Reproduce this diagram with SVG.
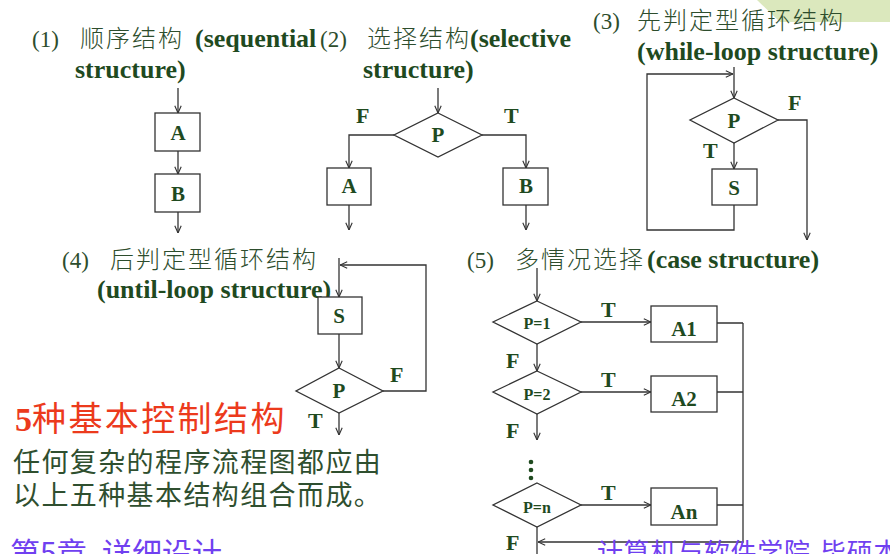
<svg xmlns="http://www.w3.org/2000/svg" width="890" height="554" viewBox="0 0 890 554">
<style>
.en{font-family:"Liberation Serif","Times New Roman",serif;font-weight:bold;fill:#1f4a1f}
.num{font-family:"Liberation Serif","Times New Roman",serif;fill:#2d4d2d;font-size:23px}
.cn{font-family:"Noto Sans CJK SC","Noto Sans CJK JP",sans-serif;font-weight:300;fill:#2d4d2d;font-size:24px;letter-spacing:2px}
.h{font-size:26px}
.lb{font-size:21px;text-anchor:middle}
.sm{font-size:16px;text-anchor:middle}
.ft{font-size:22px}
.box{fill:#fff;stroke:#333;stroke-width:1.3}
.ln{fill:none;stroke:#333;stroke-width:1.3}
.body{font-family:"Noto Sans CJK SC","Noto Sans CJK JP",sans-serif;font-size:27px;letter-spacing:1.4px;fill:#2f4f2f}
.red{font-family:"Noto Sans CJK SC","Noto Sans CJK JP",sans-serif;font-size:34px;letter-spacing:2.4px;fill:#ec3a1c}
.pur{font-family:"Noto Sans CJK SC","Noto Sans CJK JP",sans-serif;fill:#7040f0}
</style>
<defs>
<marker id="ar" viewBox="0 0 10 10" refX="10" refY="5" markerWidth="8" markerHeight="8" markerUnits="userSpaceOnUse" orient="auto">
<path d="M1,1 L10,5 L1,9" fill="none" stroke="#333" stroke-width="1.4"/>
</marker>
</defs>
<rect width="890" height="554" fill="#fff"/>
<polygon points="757,0 890,0 890,22 780,22" fill="#dbe8bd"/>

<g id="titles">
<text class="num" x="32" y="47">(1)</text><text class="cn" x="80" y="47">顺序结构</text><text class="en h" x="195" y="47">(sequential</text>
<text class="en h" x="75" y="78">structure)</text>
<text class="num" x="320" y="47">(2)</text><text class="cn" x="367" y="47">选择结构</text><text class="en h" x="470" y="47">(selective</text>
<text class="en h" x="363" y="78">structure)</text>
<text class="num" x="593" y="29">(3)</text><text class="cn" x="637" y="29">先判定型循环结构</text>
<text class="en h" x="637" y="60">(while-loop structure)</text>
<text class="num" x="62" y="268">(4)</text><text class="cn" x="110" y="268">后判定型循环结构</text>
<text class="en h" x="97" y="298">(until-loop structure)</text>
<text class="num" x="467" y="268">(5)</text><text class="cn" x="515" y="268">多情况选择</text><text class="en h" x="647" y="268">(case structure)</text>
</g>

<g id="connectors">
<path class="ln" d="M178,88 V113" marker-end="url(#ar)"/>
<path class="ln" d="M178,151 V174" marker-end="url(#ar)"/>
<path class="ln" d="M178,212 V233" marker-end="url(#ar)"/>
<path class="ln" d="M438,88 V113" marker-end="url(#ar)"/>
<path class="ln" d="M394,135 H349 V168" marker-end="url(#ar)"/>
<path class="ln" d="M482,135 H526 V168" marker-end="url(#ar)"/>
<path class="ln" d="M349,205 V230" marker-end="url(#ar)"/>
<path class="ln" d="M526,205 V230" marker-end="url(#ar)"/>
<path class="ln" d="M734,67 V98" marker-end="url(#ar)"/>
<path class="ln" d="M734,143 V169" marker-end="url(#ar)"/>
<path class="ln" d="M734,205 V230 H647 V74 H733" marker-end="url(#ar)"/>
<path class="ln" d="M778,120 H807 V240" marker-end="url(#ar)"/>
<path class="ln" d="M339,258 V297" marker-end="url(#ar)"/>
<path class="ln" d="M339,334 V368" marker-end="url(#ar)"/>
<path class="ln" d="M339,413 V435" marker-end="url(#ar)"/>
<path class="ln" d="M383,391 H426 V265 H340" marker-end="url(#ar)"/>
<path class="ln" d="M537,268 V301" marker-end="url(#ar)"/>
<path class="ln" d="M581,322 H651" marker-end="url(#ar)"/>
<path class="ln" d="M537,344 V371" marker-end="url(#ar)"/>
<path class="ln" d="M581,392 H651" marker-end="url(#ar)"/>
<path class="ln" d="M537,414 V440" marker-end="url(#ar)"/>
<path class="ln" d="M581,505 H651" marker-end="url(#ar)"/>
<path class="ln" d="M537,527 V554"/>
<path class="ln" d="M717,323 H743 M717,392 H743 M717,505 H743"/>
<path class="ln" d="M743,323 V542 H538" marker-end="url(#ar)"/>
<circle cx="531" cy="462" r="2.3" fill="#1f4a1f"/>
<circle cx="531" cy="470" r="2.3" fill="#1f4a1f"/>
<circle cx="531" cy="478" r="2.3" fill="#1f4a1f"/>
</g>

<g id="labels">
<text class="en ft" x="356" y="123">F</text>
<text class="en ft" x="504" y="123">T</text>
<text class="en ft" x="788" y="110">F</text>
<text class="en ft" x="703" y="158">T</text>
<text class="en ft" x="390" y="382">F</text>
<text class="en ft" x="308" y="428">T</text>
<text class="en ft" x="601" y="317">T</text>
<text class="en ft" x="601" y="387">T</text>
<text class="en ft" x="601" y="500">T</text>
<text class="en ft" x="506" y="368">F</text>
<text class="en ft" x="506" y="438">F</text>
<text class="en ft" x="506" y="550">F</text>
</g>

<g id="seqA"><rect class="box" x="155" y="113" width="45" height="38"/><text class="en lb" x="178" y="140">A</text></g>
<g id="seqB"><rect class="box" x="155" y="174" width="45" height="38"/><text class="en lb" x="178" y="201">B</text></g>

<g id="selP"><polygon class="box" points="438,113 482,135 438,157 394,135"/><text class="en lb" x="438" y="142">P</text></g>
<g id="selA"><rect class="box" x="327" y="168" width="44" height="37"/><text class="en lb" x="349" y="193">A</text></g>
<g id="selB"><rect class="box" x="503" y="168" width="45" height="37"/><text class="en lb" x="526" y="193">B</text></g>

<g id="whileP"><polygon class="box" points="734,98 778,120 734,143 690,120"/><text class="en lb" x="734" y="128">P</text></g>
<g id="whileS"><rect class="box" x="712" y="169" width="45" height="36"/><text class="en lb" x="734" y="195">S</text></g>

<g id="untilS"><rect class="box" x="318" y="297" width="44" height="37"/><text class="en lb" x="339" y="323">S</text></g>
<g id="untilP"><polygon class="box" points="339,368 383,391 339,413 296,391"/><text class="en lb" x="339" y="398">P</text></g>

<g id="caseP1"><polygon class="box" points="537,301 581,322 537,344 493,322"/><text class="en sm" x="537" y="329">P=1</text></g>
<g id="caseA1"><rect class="box" x="651" y="306" width="66" height="36"/><text class="en lb" x="684" y="336">A1</text></g>
<g id="caseP2"><polygon class="box" points="537,371 581,392 537,414 493,392"/><text class="en sm" x="537" y="400">P=2</text></g>
<g id="caseA2"><rect class="box" x="651" y="376" width="66" height="36"/><text class="en lb" x="684" y="406">A2</text></g>
<g id="casePn"><polygon class="box" points="537,483 581,505 537,527 493,505"/><text class="en sm" x="537" y="513">P=n</text></g>
<g id="caseAn"><rect class="box" x="651" y="488" width="66" height="37"/><text class="en lb" x="684" y="519">An</text></g>

<g id="notes">
<text x="15" y="431"><tspan class="en" style="font-size:34px;fill:#ec3a1c">5</tspan><tspan class="red">种基本控制结构</tspan></text>
<text class="body" x="13" y="472">任何复杂的程序流程图都应由</text>
<text class="body" x="13" y="505">以上五种基本结构组合而成。</text>
<text class="pur" x="10" y="564" style="font-size:30px">第5章</text>
<text class="pur" x="102" y="564" style="font-size:30px">详细设计</text>
<text class="pur" x="597" y="562" style="font-size:26px;letter-spacing:0.7px">计算机与软件学院</text>
<text class="pur" x="820" y="562" style="font-size:26px;letter-spacing:0.7px">毕硕本</text>
</g>
</svg>
